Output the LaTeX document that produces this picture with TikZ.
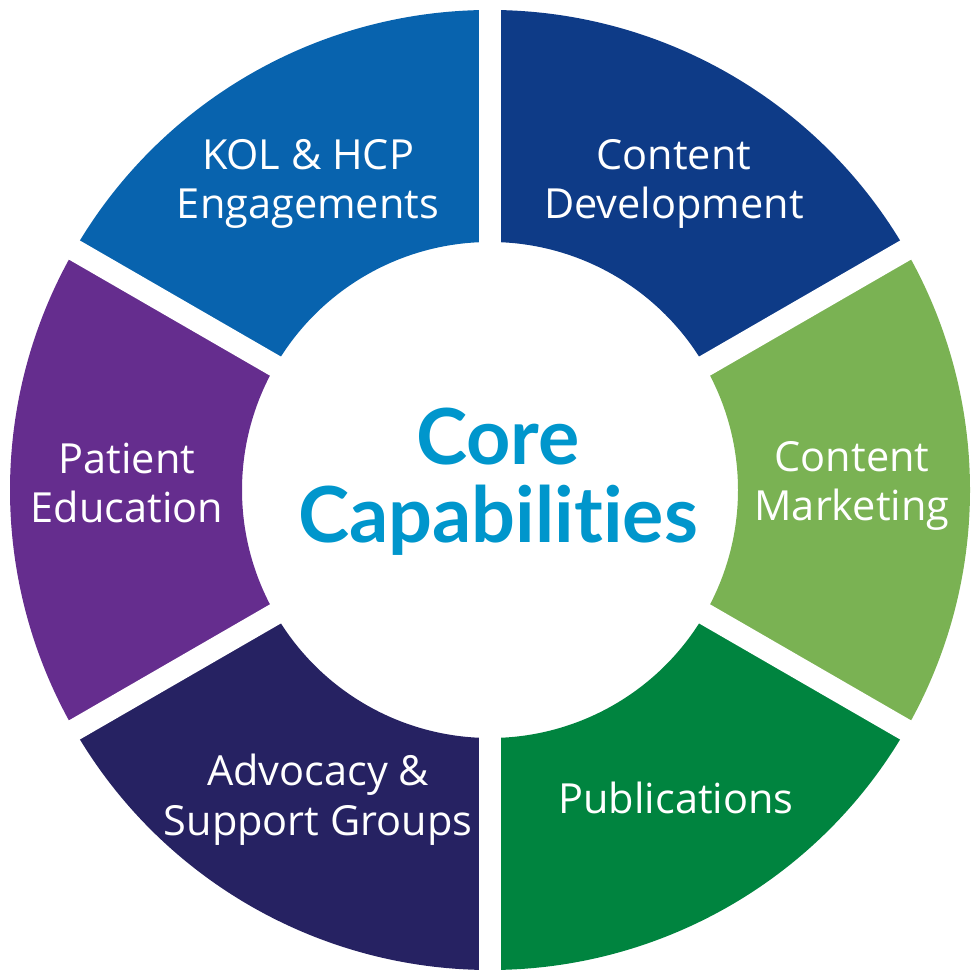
\documentclass[tikz,border=0pt]{standalone}
\usepackage{fontspec}
\setmainfont{Open Sans}
\newfontfamily\corefont{Lato}[Ligatures=NoCommon]
\usetikzlibrary{positioning}

\definecolor{kolblue}{HTML}{0863AE}
\definecolor{devnavy}{HTML}{0E3B87}
\definecolor{mktgreen}{HTML}{7AB253}
\definecolor{pubgreen}{HTML}{00843F}
\definecolor{advindigo}{HTML}{262262}
\definecolor{patpurple}{HTML}{652D8E}
\definecolor{coreblue}{HTML}{0096CC}

\begin{document}
\begin{tikzpicture}
\tikzstyle{every node}+=[inner sep=0pt]
\tikzstyle{segtext}=[text=white, align=center, font=\fontsize{11.8}{14.2}\selectfont]
\useasboundingbox (-4.9,-4.9) rectangle (4.9,4.9);
% ring segments
\fill [devnavy] (30:4.8) arc (30:90:4.8) -- (90:2.48) arc (90:30:2.48) -- cycle;
\fill [kolblue] (90:4.8) arc (90:150:4.8) -- (150:2.48) arc (150:90:2.48) -- cycle;
\fill [patpurple] (150:4.8) arc (150:210:4.8) -- (210:2.48) arc (210:150:2.48) -- cycle;
\fill [advindigo] (210:4.8) arc (210:270:4.8) -- (270:2.48) arc (270:210:2.48) -- cycle;
\fill [pubgreen] (270:4.8) arc (270:330:4.8) -- (330:2.48) arc (330:270:2.48) -- cycle;
\fill [mktgreen] (-30:4.8) arc (-30:30:4.8) -- (30:2.48) arc (30:-30:2.48) -- cycle;
% gaps between segments
\foreach \a in {30,90,...,330}
  \draw [white, line width=0.22cm] (0,0) -- (\a:4.9);
% labels
\node [segtext] (kol) at (-1.82,3.06) {KOL \& HCP\\Engagements};
\node [segtext] (dev) at (1.84,3.06) {Content\\Development};
\node [segtext] (patient) at (-3.63,0.07) {Patient\\Education};
\node [segtext] (mkt) at (3.62,0.04) {Content\\Marketing};
\node [segtext] (advocacy) at (-1.72,-3.10) {Advocacy \&\\Support Groups};
\node [segtext] (pub) at (1.86,-3.08) {Publications};
\node [text=coreblue, align=center, font=\corefont\bfseries\fontsize{22}{22.2}\selectfont] (core) at (0.08,0.08) {Core\\Capabilities};
\end{tikzpicture}
\end{document}
